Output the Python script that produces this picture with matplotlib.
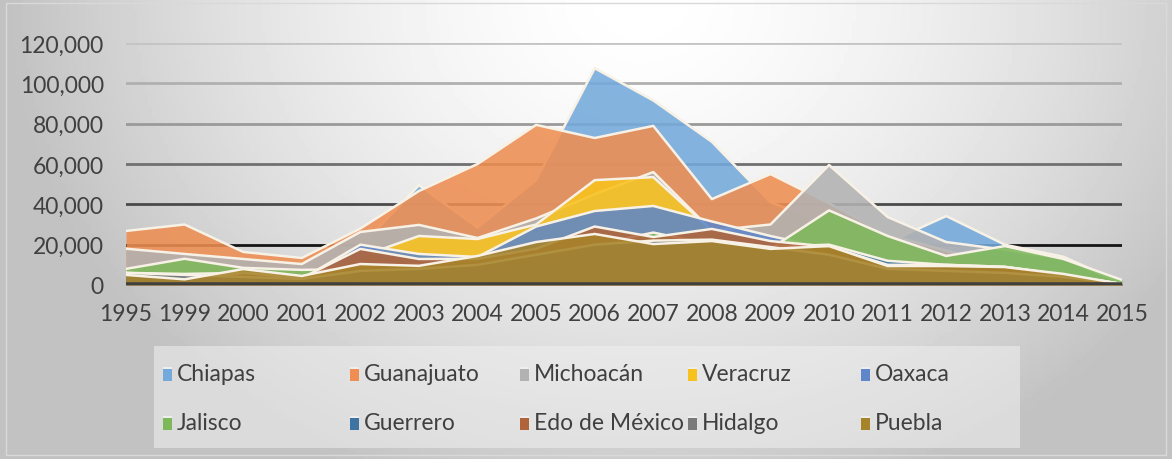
import numpy as np
import matplotlib
matplotlib.use("Agg")
import matplotlib.pyplot as plt
from matplotlib.patches import Rectangle

plt.rcParams['font.family'] = ['Lato', 'DejaVu Sans']

years = ['1995', '1999', '2000', '2001', '2002', '2003', '2004', '2005', '2006',
         '2007', '2008', '2009', '2010', '2011', '2012', '2013', '2014', '2015']

chiapas = [5000, 6000, 6500, 4500, 19000, 49500, 28500, 52000, 107500, 91500,
           71000, 41000, 30000, 21000, 34200, 20000, 14000, 1000]
guanajuato = [26800, 30000, 16400, 13400, 28000, 46600, 60000, 79400, 72900, 78900,
              42600, 55000, 40500, 25000, 17000, 10000, 6000, 1000]
michoacan = [18000, 15400, 12900, 10400, 26300, 29800, 23300, 33000, 45000, 56000,
             27000, 30000, 59500, 33700, 21300, 17500, 13000, 1000]
veracruz = [3000, 4000, 5000, 3500, 14000, 24300, 22800, 30000, 52000, 53500,
            27000, 15000, 12000, 7000, 6000, 5000, 3000, 500]
oaxaca = [6500, 4000, 5000, 3000, 20000, 15400, 13900, 29000, 36700, 39200,
          31500, 24300, 18000, 12000, 9000, 8000, 5000, 500]
jalisco = [8000, 13000, 8500, 7500, 8000, 8000, 9000, 12000, 20000, 26000,
           20000, 18000, 37000, 24300, 14400, 19300, 12900, 2500]
guerrero = [6000, 5500, 6000, 4000, 9000, 10000, 12000, 15000, 20000, 22000,
            21000, 19000, 20000, 12000, 10000, 9000, 5000, 500]
edomex = [5000, 3000, 6000, 3500, 17900, 12900, 13000, 18000, 29000, 23800,
          27800, 21800, 19000, 10000, 10000, 9000, 5000, 500]
hidalgo = [6000, 5000, 4000, 3000, 7000, 8000, 10000, 15000, 20000, 22000,
           22500, 18800, 15000, 8000, 7000, 6000, 4000, 500]
puebla = [5000, 2800, 7900, 4500, 10400, 9500, 14400, 21300, 25300, 20300,
          21800, 17900, 19300, 9400, 9400, 8900, 5500, 500]

names = ['Chiapas', 'Guanajuato', 'Michoacán', 'Veracruz', 'Oaxaca',
         'Jalisco', 'Guerrero', 'Edo de México', 'Hidalgo', 'Puebla']
series = [chiapas, guanajuato, michoacan, veracruz, oaxaca,
          jalisco, guerrero, edomex, hidalgo, puebla]
colors = ['#74A9DB', '#EE8E52', '#B2B2B2', '#F8C21E', '#5F86C8',
          '#7DB85A', '#3F73A3', '#B0643A', '#7A7A7A', '#A7832A']

W, H = 1172, 460
fig = plt.figure(figsize=(W / 100, H / 100), dpi=100)

# background: radial grey gradient, light at top centre
bg = fig.add_axes([0, 0, 1, 1], zorder=-10)
gx, gy = np.meshgrid(np.linspace(0, W, 300), np.linspace(0, H, 120))
d = np.sqrt(((gx - 640) / 600) ** 2 + ((gy - 0) / 500) ** 2)
shade = np.clip(1.0 - 0.22 * d ** 1.6, 0.76, 1.0)
bg.imshow(shade, cmap='gray', vmin=0, vmax=1, extent=[0, W, H, 0], aspect='auto')
bg.set_xlim(0, W)
bg.set_ylim(H, 0)
bg.axis('off')
bg.add_patch(Rectangle((6, 4), W - 12, H - 8, facecolor='none',
                       edgecolor='#D9D9D9', lw=1))

# legend panel
bg.add_patch(Rectangle((154, 347), 866, 102, facecolor='#F0F0F0', alpha=0.55,
                       edgecolor='none'))

ax = fig.add_axes([126 / W, 1 - 286 / H, (1122 - 126) / W, (286 - 44) / H])
ax.set_facecolor('none')
x = np.arange(len(years))

grid_vals = [20000, 40000, 60000, 80000, 100000, 120000]
grid_cols = ['#151515', '#4A4A4A', '#707070', '#9A9A9A', '#B0B0B0', '#C4C4C4']
for gv, gc in zip(grid_vals, grid_cols):
    ax.axhline(gv, color=gc, lw=2, zorder=0)

for i, (vals, c) in enumerate(zip(series, colors)):
    ax.fill_between(x, 0, vals, color=c, alpha=0.88, lw=0, zorder=2 + i)
    ax.plot(x, vals, color='#F7F1E6', lw=1.8, zorder=2 + i)

ax.axhline(0, color='#404040', lw=4, zorder=20)

ax.set_xlim(0, len(years) - 1)
ax.set_ylim(0, 120000)
ax.set_xticks(x)
ax.set_xticklabels(years)
ax.set_yticks([0] + grid_vals)
ax.set_yticklabels(['{:,}'.format(v) for v in [0] + grid_vals])
ax.tick_params(length=0, labelsize=16.5, colors='#404040')
ax.tick_params(axis='x', pad=13)
ax.tick_params(axis='y', pad=16)
for s in ax.spines.values():
    s.set_visible(False)

# legend, 5 columns x 2 rows
col_x = [168, 355, 525, 693, 866]
row_y = [375, 424]
for k, (nm, c) in enumerate(zip(names, colors)):
    cx = col_x[k % 5]
    cy = row_y[k // 5]
    bg.add_patch(Rectangle((cx - 5, cy - 7), 9, 14, facecolor=c, edgecolor='none'))
    bg.add_patch(Rectangle((cx - 5, cy - 7), 9, 2, facecolor='#EEEEEE', edgecolor='none'))
    bg.text(cx + 9, cy, nm, fontsize=16.5, color='#404040', va='center', ha='left')

fig.savefig('out.png', dpi=100)
